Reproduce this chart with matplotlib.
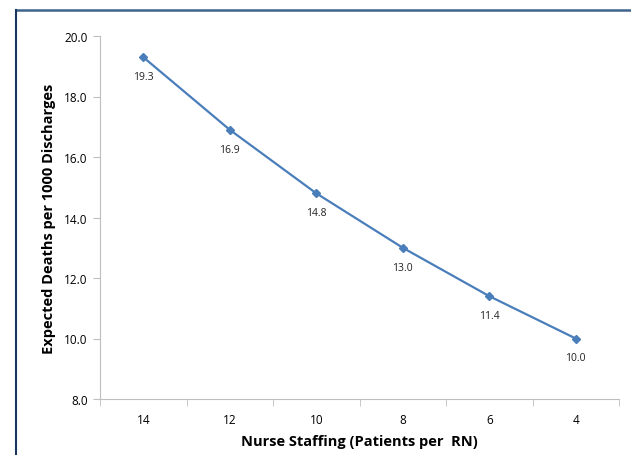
import matplotlib
matplotlib.use("Agg")
import matplotlib.pyplot as plt
from matplotlib.lines import Line2D

plt.rcParams["font.family"] = ["Open Sans", "DejaVu Sans"]

staffing = ["14", "12", "10", "8", "6", "4"]
deaths = [19.3, 16.9, 14.8, 13.0, 11.4, 10.0]

fig = plt.figure(figsize=(6.31, 4.56), dpi=100)
ax = fig.add_axes([100 / 631, 1 - 400 / 456, 519 / 631, 363 / 456])

x = list(range(len(staffing)))
ax.plot(x, deaths, color="#4A7EBB", lw=1.6, marker="D", ms=4.5,
        markerfacecolor="#4A7EBB", markeredgecolor="#4A7EBB")
for xi, v in zip(x, deaths):
    ax.annotate(f"{v:.1f}", (xi, v), xytext=(0, -14), textcoords="offset points",
                ha="center", va="center", fontsize=7.5, color="#222222")

ax.set_xlim(-0.5, len(staffing) - 0.5)
ax.set_ylim(8, 20)
ax.set_yticks([8, 10, 12, 14, 16, 18, 20])
ax.set_yticklabels([f"{t:.1f}" for t in ax.get_yticks()])
ax.set_xticks(x)
ax.set_xticklabels(staffing)
ax.set_xticks([i - 0.5 for i in range(len(staffing) + 1)], minor=True)
ax.tick_params(axis="x", which="major", length=0, pad=10, labelsize=8.5)
ax.tick_params(axis="x", which="minor", length=5, color="#BFBFBF", direction="out")
ax.tick_params(axis="y", length=5, color="#BFBFBF", labelsize=8.5, pad=4)

for s in ["top", "right"]:
    ax.spines[s].set_visible(False)
for s in ["left", "bottom"]:
    ax.spines[s].set_color("#BFBFBF")

ax.set_xlabel("Nurse Staffing (Patients per  RN)", fontsize=10.5, fontweight="bold", labelpad=6)
ax.set_ylabel("Expected Deaths per 1000 Discharges", fontsize=10.5, fontweight="bold", labelpad=6)

# outer chart frame (top and left edges visible)
fig.add_artist(Line2D([16 / 631, 1], [1 - 10.5 / 456] * 2, transform=fig.transFigure,
                      color="#3E648C", lw=1.8))
fig.add_artist(Line2D([16 / 631] * 2, [0, 1 - 10.5 / 456], transform=fig.transFigure,
                      color="#17375E", lw=1.5))

fig.savefig("out.png", dpi=100)
